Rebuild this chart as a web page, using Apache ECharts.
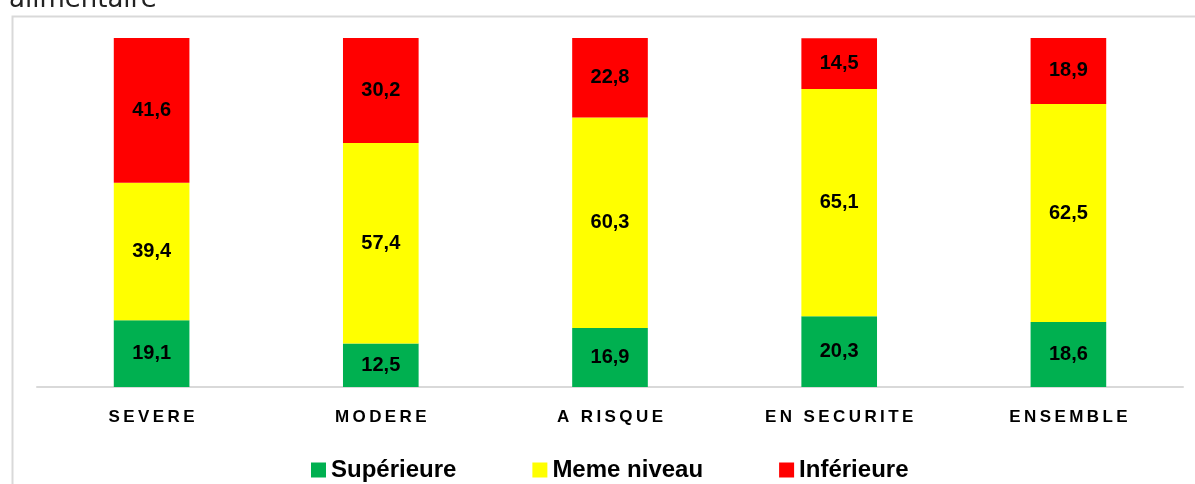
<!DOCTYPE html>
<html lang="fr">
<head>
    <meta charset="UTF-8">
    <title>Chart</title>
    <style>
        html, body { margin: 0; padding: 0; background: #fff; }
        #chart { width: 1195px; height: 484px; }
    </style>
</head>
<body>
    <div id="chart"></div>
    <script src="https://cdn.jsdelivr.net/npm/echarts@6/dist/echarts.min.js"></script>
    <script>
        const categories = ['SEVERE', 'MODERE', 'A RISQUE', 'EN SECURITE', 'ENSEMBLE']
        const superieure = [19.1, 12.5, 16.9, 20.3, 18.6]
        const memeNiveau = [39.4, 57.4, 60.3, 65.1, 62.5]
        const inferieure = [41.6, 30.2, 22.8, 14.5, 18.9]

        const labelFont = 'Liberation Sans'
        // canvas has no letter-spacing, so put thin spaces between letters
        const spaced = s => s.split('').join('\u2009')

        function barSeries(name, data, color) {
            return {
                name, type: 'bar', stack: 'total', data, barWidth: '33%',
                itemStyle: { color },
                label: {
                    show: true, position: 'inside',
                    formatter: p => String(p.value).replace('.', ','),
                    color: '#000', fontWeight: 'bold', fontSize: 20, fontFamily: labelFont
                }
            }
        }

        const chart = echarts.init(document.getElementById('chart'))
        chart.setOption({
            animation: false,
            graphic: [
                { type: 'rect', left: 10, top: 14, shape: { width: 1200, height: 500 },
                  style: { fill: 'none', stroke: '#d9d9d9', lineWidth: 2 } },
                { type: 'text', left: 9, top: -13,
                  style: { text: 'alimentaire', font: '26px "DejaVu Sans"', fill: '#222' } }
            ],
            grid: { left: 37, right: 12, top: 38, bottom: 97 },
            legend: {
                top: 453, left: 306, itemWidth: 15, itemHeight: 15, itemGap: 76,
                textStyle: { fontSize: 24, fontWeight: 'bold', fontFamily: labelFont, color: '#000' },
                data: ['Supérieure', 'Meme niveau', 'Inférieure'],
                icon: 'rect'
            },
            xAxis: {
                type: 'category', data: categories,
                axisLine: { lineStyle: { color: '#d9d9d9', width: 2 } },
                axisTick: { show: false },
                axisLabel: {
                    margin: 22, formatter: spaced,
                    color: '#000', fontWeight: 'bold', fontSize: 17, fontFamily: labelFont
                }
            },
            yAxis: { type: 'value', min: 0, max: 100, show: false },
            series: [
                barSeries('Supérieure', superieure, '#00b050'),
                barSeries('Meme niveau', memeNiveau, '#ffff00'),
                barSeries('Inférieure', inferieure, '#ff0000')
            ]
        })
    </script>
</body>
</html>
